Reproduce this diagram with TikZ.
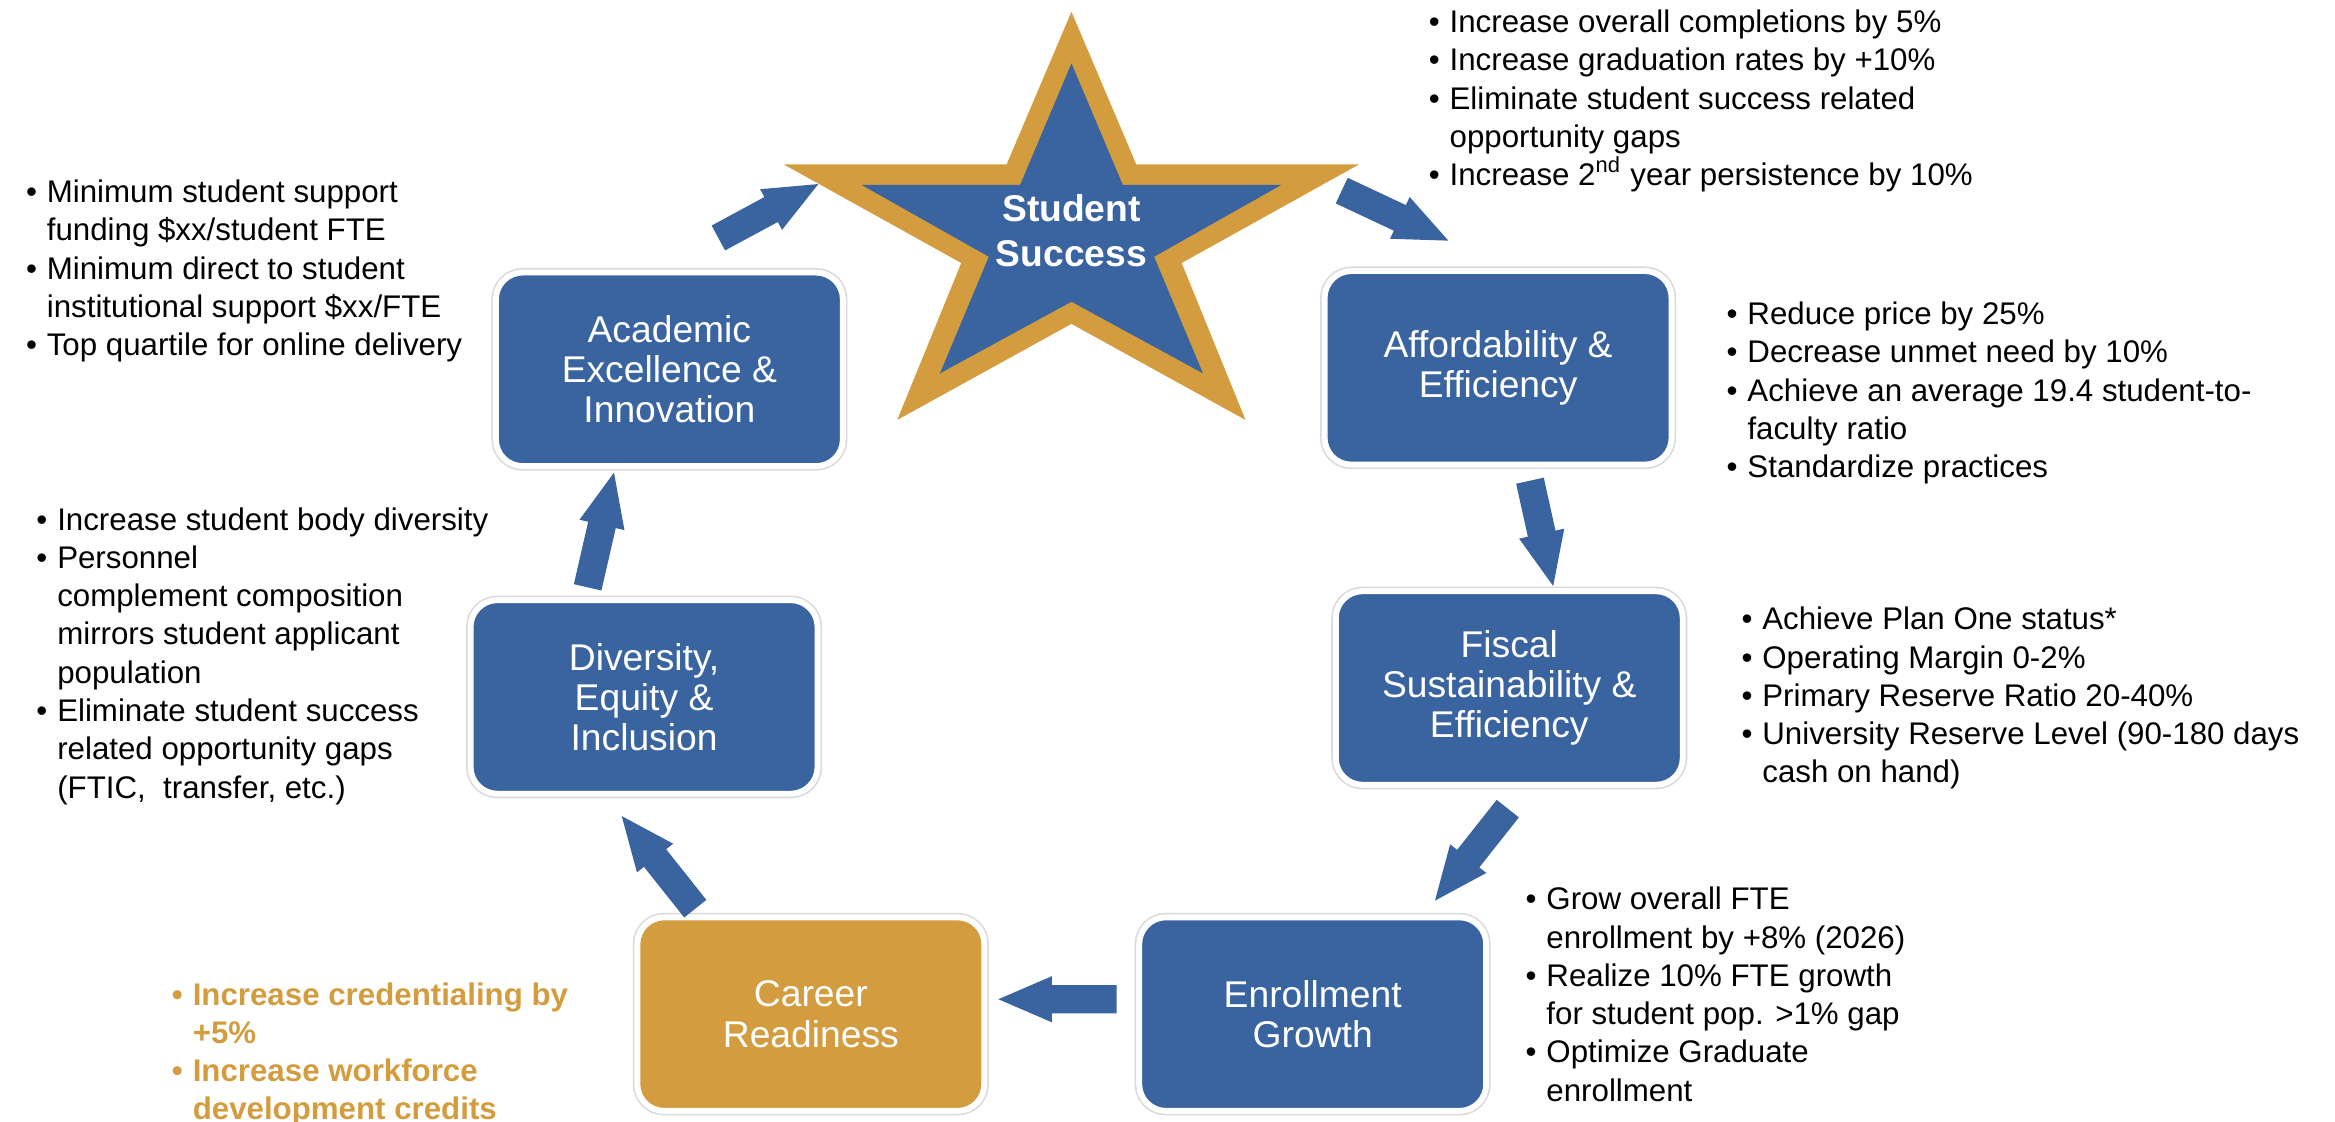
\documentclass[tikz,border=0pt]{standalone}
\usepackage{fontspec}
\setmainfont{Liberation Sans}
\usetikzlibrary{calc}
\definecolor{boxblue}{HTML}{3A649F}
\definecolor{gold}{HTML}{D39C3F}
\newlength\bind
\setlength\bind{0.21cm}
\newcommand\bl{\makebox[\bind][l]{\textbullet}}
\newcommand\ct{\hspace*{\bind}}
\newcommand\blockarrow[2]{%
  \coordinate (bah) at ($(#2)!0.54cm!(#1)$);
  \fill[boxblue] ($(#1)!0.1425cm!90:(#2)$) -- ($(bah)!0.1425cm!90:(#2)$)
    -- ($(bah)!0.2325cm!90:(#2)$) -- (#2) -- ($(bah)!0.2325cm!-90:(#2)$)
    -- ($(bah)!0.1425cm!-90:(#2)$) -- ($(#1)!0.1425cm!-90:(#2)$) -- cycle;}
\begin{document}
\begin{tikzpicture}[x=0.015cm,y=-0.015cm,
  box/.style={rounded corners=0.27cm, minimum width=3.495cm, minimum height=1.95cm,
    fill=boxblue, draw=white, line width=1.7pt,
    preaction={draw=black!15, line width=2.6pt},
    text=white, align=center, inner sep=0pt,
    font=\fontsize{10.67}{11.5}\selectfont},
  lst/.style={anchor=north west, inner sep=0pt, align=left,
    font=\fontsize{8.96}{10.97}\selectfont}]
\useasboundingbox (0,0) rectangle (1568,753);
% star
\fill[gold] (719.5,7.9) -- (763,110.3) -- (912.8,110.3) -- (793.5,176.6) -- (836.4,282)
  -- (719.5,217.5) -- (602.5,282) -- (645.5,176.6) -- (526.1,110.3) -- (676,110.3) -- cycle;
\fill[boxblue] (719.5,42.5) -- (754,124.2) -- (860.4,124.2) -- (775,172.4) -- (807.8,250.7)
  -- (719.5,202.6) -- (631.2,250.7) -- (664,172.4) -- (578.6,124.2) -- (685,124.2) -- cycle;
\node[text=white, align=center, font=\fontsize{10.67}{12.8}\selectfont\bfseries] (star) at (719.5,155) {Student\\Success};
% boxes
\node[box] (acad) at (449.5,248) {Academic\\Excellence \&\\Innovation};
\node[box] (aff) at (1006,247) {Affordability \&\\Efficiency};
\node[box] (fis) at (1013.5,462) {Fiscal\\Sustainability \&\\Efficiency};
\node[box] (enr) at (881.5,681) {Enrollment\\Growth};
\node[box, fill=gold] (car) at (544.5,681) {Career\\Readiness};
\node[box] (div) at (432.5,468) {Diversity,\\Equity \&\\Inclusion};
% arrows
\coordinate (a1s) at (482.4,159.8); \coordinate (a1e) at (549.5,123.6);
\coordinate (a2s) at (901,128);     \coordinate (a2e) at (972.6,161.6);
\coordinate (a3s) at (1027.4,322.8);\coordinate (a3e) at (1043,393.5);
\coordinate (a4s) at (1012.5,543);  \coordinate (a4e) at (963.6,604.8);
\coordinate (a5s) at (749.8,671);   \coordinate (a5e) at (670.4,671);
\coordinate (a6s) at (466.9,610.2); \coordinate (a6e) at (417.5,548);
\coordinate (a7s) at (394.6,394.4); \coordinate (a7e) at (412.3,317.4);
\blockarrow{a1s}{a1e}
\blockarrow{a2s}{a2e}
\blockarrow{a3s}{a3e}
\blockarrow{a4s}{a4e}
\blockarrow{a5s}{a5e}
\blockarrow{a6s}{a6e}
\blockarrow{a7s}{a7e}
% lists
\node[lst] (l1) at (17,117.5) {\strut\bl Minimum student support\\
  \ct funding \$xx/student FTE\\
  \bl Minimum direct to student\\
  \ct institutional support \$xx/FTE\\
  \bl Top quartile for online delivery};
\node[lst] (l2) at (959,3.5) {\strut\bl Increase overall completions by 5\%\\
  \bl Increase graduation rates by +10\%\\
  \bl Eliminate student success related\\
  \ct opportunity gaps\\
  \bl Increase 2\textsuperscript{nd} year persistence by 10\%};
\node[lst] (l3) at (1159,199.5) {\strut\bl Reduce price by 25\%\\
  \bl Decrease unmet need by 10\%\\
  \bl Achieve an average 19.4 student-to-\\
  \ct faculty ratio\\
  \bl Standardize practices};
\node[lst] (l4) at (1169,404.5) {\strut\bl Achieve Plan One status*\\
  \bl Operating Margin 0-2\%\\
  \bl Primary Reserve Ratio 20-40\%\\
  \bl University Reserve Level (90-180 days\\
  \ct cash on hand)};
\node[lst] (l5) at (24,337.5) {\strut\bl Increase student body diversity\\
  \bl Personnel\\
  \ct complement composition\\
  \ct mirrors student applicant\\
  \ct population\\
  \bl Eliminate student success\\
  \ct related opportunity gaps\\
  \ct (FTIC,\ \ transfer, etc.)};
\node[lst] (l6) at (1024,592.5) {\strut\bl Grow overall FTE\\
  \ct enrollment by +8\% (2026)\\
  \bl Realize 10\% FTE growth\\
  \ct for student pop. >1\% gap\\
  \bl Optimize Graduate\\
  \ct enrollment};
\node[lst, text=gold, font=\fontsize{8.96}{10.97}\selectfont\bfseries] (l7) at (115,656.5) {\strut\bl Increase credentialing by\\
  \ct +5\%\\
  \bl Increase workforce\\
  \ct development credits};
\end{tikzpicture}
\end{document}
